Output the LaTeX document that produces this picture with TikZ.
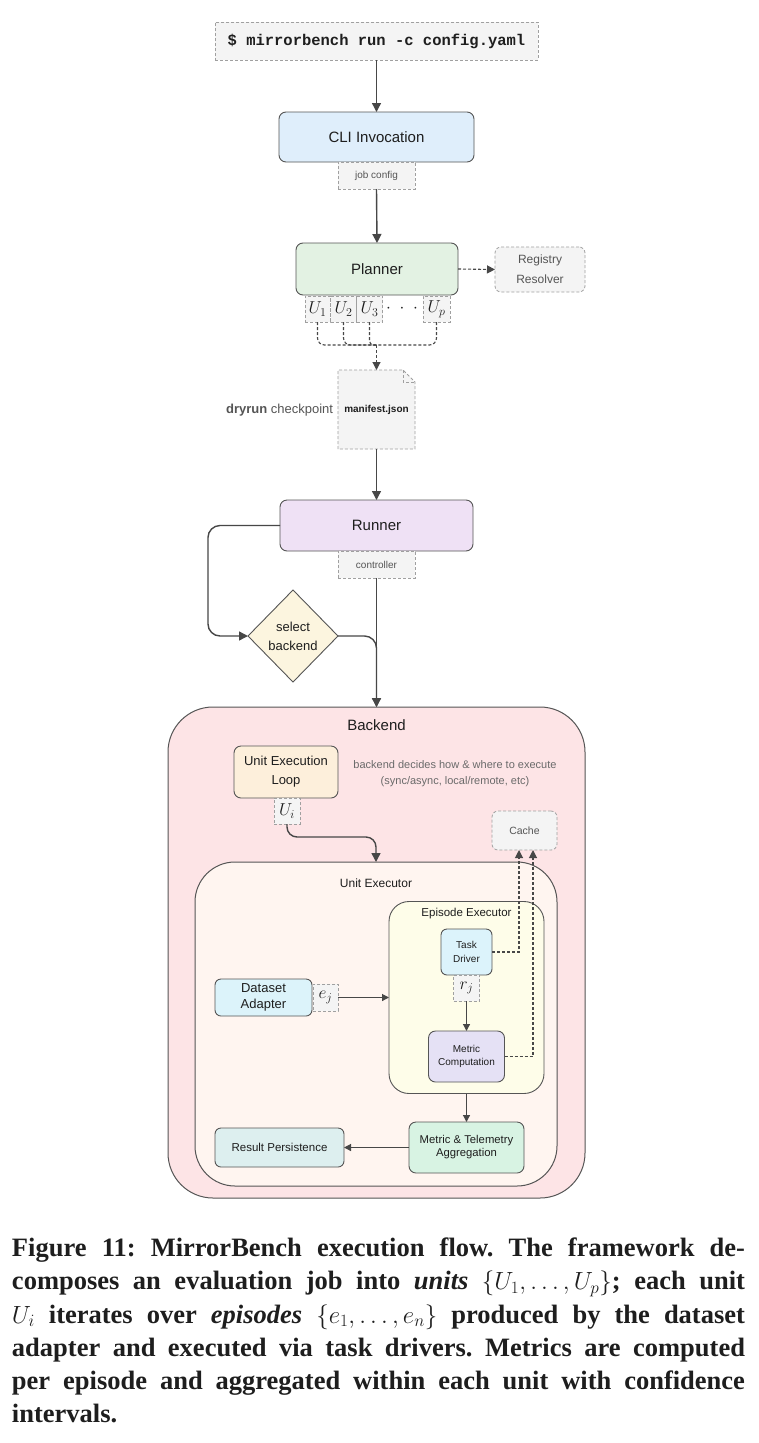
\documentclass[tikz,border=0pt]{standalone}
\usepackage{fontspec}
\setmainfont{Liberation Sans}
\setmonofont{Liberation Mono}
\newfontfamily\capfont{Liberation Serif}
\usetikzlibrary{arrows.meta,shapes.geometric,backgrounds}
\definecolor{bordc}{HTML}{555555}
\definecolor{dashc}{HTML}{A0A0A0}
\definecolor{lblfill}{HTML}{F4F4F4}
\definecolor{arrc}{HTML}{474747}
\definecolor{txtc}{HTML}{1E1E1E}
\definecolor{txtgray}{HTML}{555555}
\definecolor{anntxt}{HTML}{6A6A6A}
\definecolor{clifill}{HTML}{DFEEFB}
\definecolor{planfill}{HTML}{E3F2E3}
\definecolor{runfill}{HTML}{EFE1F5}
\definecolor{dfill}{HTML}{FCF5DF}
\definecolor{bkfill}{HTML}{FDE4E6}
\definecolor{uelfill}{HTML}{FDEFDB}
\definecolor{uefill}{HTML}{FFF5F0}
\definecolor{epfill}{HTML}{FEFDE9}
\definecolor{taskfill}{HTML}{DCF3FB}
\definecolor{metfill}{HTML}{E5E1F5}
\definecolor{dsfill}{HTML}{DCF3FA}
\definecolor{aggfill}{HTML}{D8F3E3}
\definecolor{resfill}{HTML}{DDEFEF}
\newcommand\fsz[2]{\fontsize{#1}{#2}\selectfont}
\tikzset{
  every node/.style={inner sep=0pt, outer sep=0pt, text=txtc},
  box/.style={draw=bordc, line width=0.9pt, rounded corners=7pt, align=center},
  lbl/.style={draw=dashc, line width=0.8pt, dash pattern=on 3pt off 2pt, fill=lblfill, align=center},
  arr/.style={draw=arrc, line width=1.4pt, -{Triangle[length=9pt,width=9pt]}},
  sarr/.style={draw=arrc, line width=1.2pt, -{Triangle[length=7pt,width=7pt]}},
  darr/.style={draw=arrc, line width=1.1pt, dash pattern=on 3pt off 2pt, -{Triangle[length=8pt,width=8pt]}},
  dline/.style={draw=arrc, line width=1.1pt, dash pattern=on 3pt off 2pt},
  mlbl/.style={lbl, font=\fsz{18}{18}},
}
\begin{document}
\begin{tikzpicture}[x=1pt,y=-1pt]
\begin{scope}[on background layer]
\fill[white] (0,0) rectangle (758,1443);
\end{scope}
\useasboundingbox (0,0) rectangle (758,1443);

% top
\node[lbl, minimum width=323pt, minimum height=38pt, font=\ttfamily\bfseries\fsz{15.5}{18}] (cmd) at (376.5,41) {\$ mirrorbench run -c config.yaml};
\node[box, fill=clifill, minimum width=195pt, minimum height=50pt, font=\fsz{15}{18}] (cli) at (376.5,137) {CLI Invocation};
\node[lbl, minimum width=77pt, minimum height=27pt, font=\fsz{10}{12}, text=txtgray] (jobcfg) at (376.5,175.5) {job config};
\draw[arr] (cmd.south) -- (cli.north);

\node[box, fill=planfill, minimum width=162pt, minimum height=52pt, font=\fsz{15}{18}] (planner) at (377,269) {Planner};
\draw[arr] (jobcfg.south) -- (planner.north);
\node[lbl, rounded corners=6pt, minimum width=90pt, minimum height=45pt, font=\fsz{12}{20}, text=txtgray] (registry) at (540,269.5) {Registry\\Resolver};
\draw[darr] (planner.east) -- (registry.west);

\node[mlbl, minimum width=25pt, minimum height=26pt] (u1) at (317.5,309) {$U_1$};
\node[mlbl, minimum width=26pt, minimum height=26pt] (u2) at (343.5,309) {$U_2$};
\node[mlbl, minimum width=26pt, minimum height=26pt] (u3) at (369.5,309) {$U_3$};
\node[font=\fsz{18}{18}] (dots) at (402,309) {$\cdot\;\cdot\;\cdot$};
\node[mlbl, minimum width=27pt, minimum height=26pt] (up) at (436.5,309) {$U_p$};

\node[minimum width=77pt, minimum height=79pt, font=\bfseries\fsz{10}{12}] (manifest) at (376.5,409.5) {manifest.json};
\begin{scope}[on background layer]
\fill[lblfill] (manifest.south west) -- (manifest.north west) -- ([xshift=-12pt]manifest.north east) -- ([yshift=-12pt]manifest.north east) -- (manifest.south east) -- cycle;
\end{scope}
\draw[dashc, line width=0.8pt, dash pattern=on 3pt off 2pt] (manifest.south west) -- (manifest.north west) -- ([xshift=-12pt]manifest.north east) -- ([yshift=-12pt]manifest.north east) -- (manifest.south east) -- cycle;
\draw[dashc, line width=0.8pt, dash pattern=on 3pt off 2pt] ([xshift=-12pt]manifest.north east) -- ([xshift=-12pt,yshift=-12pt]manifest.north east) -- ([yshift=-12pt]manifest.north east);

\coordinate (jn) at (376.5,345);
\draw[dline, rounded corners=7pt] (u1.south) |- (jn);
\draw[dline, rounded corners=7pt] (u2.south) |- (jn);
\draw[dline, rounded corners=4pt] (u3.south) |- (jn);
\draw[dline, rounded corners=7pt] (up.south) |- (jn);
\draw[darr] (jn) -- (manifest.north);

\node[anchor=east, font=\fsz{13}{15}, text=txtgray] (dry) at (333,410) {\textbf{dryrun} checkpoint};

\node[box, fill=runfill, minimum width=193pt, minimum height=51pt, font=\fsz{15}{18}] (runner) at (376.5,525.5) {Runner};
\node[lbl, minimum width=77pt, minimum height=27pt, font=\fsz{10}{12}, text=txtgray] (controller) at (376.5,564.5) {controller};
\draw[arr] (manifest.south) -- (runner.north);

\node[diamond, draw=bordc, line width=0.9pt, fill=dfill, minimum width=90pt, minimum height=92pt, align=center, font=\fsz{13}{19}] (sel) at (293,636) {select\\backend};

% backend container
\node[draw=bordc, line width=1pt, fill=bkfill, rounded corners=45pt, minimum width=417pt, minimum height=491pt] (backend) at (376.5,952.5) {};
\node[font=\fsz{15}{18}] (bktitle) at (376.5,725) {Backend};

\draw[arr, rounded corners=12pt] (runner.west) -| ([xshift=-40pt]sel.west) -- (sel.west);
\draw[arr, rounded corners=12pt] (sel.east) -| (backend.north);
\draw[arr] (controller.south) -- (backend.north);

\node[box, fill=uelfill, minimum width=104pt, minimum height=52pt, font=\fsz{13}{19}] (uel) at (286,772) {Unit Execution\\Loop};
\node[align=center, text=anntxt, font=\fsz{11}{16}] (ann) at (455,773.5) {backend decides how \& where to execute\\(sync/async, local/remote, etc)};
\node[mlbl, minimum width=26pt, minimum height=26pt] (ui) at (287,811) {$U_i$};
\node[lbl, rounded corners=6pt, minimum width=65pt, minimum height=39pt, font=\fsz{10.5}{12}, text=txtgray] (cache) at (524.5,830.5) {Cache};

% unit executor
\node[draw=bordc, line width=1pt, fill=uefill, rounded corners=40pt, minimum width=362pt, minimum height=324pt] (ue) at (376,1024) {};
\node[font=\fsz{12}{14}] (uetitle) at (376,883) {Unit Executor};
\draw[arr, rounded corners=10pt] (ui.south) |- ([yshift=25pt]ue.north) -- (ue.north);

\node[draw=bordc, line width=0.9pt, fill=epfill, rounded corners=20pt, minimum width=155pt, minimum height=192pt] (ep) at (466.5,997.5) {};
\node[font=\fsz{11.5}{14}] (eptitle) at (466.5,914) {Episode Executor};

\node[box, rounded corners=6pt, fill=taskfill, minimum width=51pt, minimum height=46pt, font=\fsz{10}{14}] (task) at (466.5,952) {Task\\Driver};
\node[mlbl, minimum width=26pt, minimum height=26pt] (rj) at (466.5,988) {$r_j$};
\node[box, fill=metfill, minimum width=76pt, minimum height=51pt, font=\fsz{10}{13.5}] (metric) at (466.5,1056.5) {Metric\\Computation};
\draw[sarr] (rj.south) -- (metric.north);
\draw[darr] (task.east) -| ([xshift=-5.5pt]cache.south);
\draw[darr] (metric.east) -| ([xshift=8.5pt]cache.south);

\node[box, rounded corners=6pt, fill=dsfill, minimum width=97pt, minimum height=37pt, font=\fsz{13}{16.5}] (ds) at (263.5,997.5) {Dataset\\Adapter};
\node[mlbl, minimum width=25pt, minimum height=27pt] (ej) at (325.5,997.5) {$e_j$};
\draw[sarr] (ej.east) -- (ep.west);

\node[box, fill=aggfill, minimum width=115pt, minimum height=51pt, font=\fsz{11.3}{13}] (agg) at (466.5,1147.5) {Metric \& Telemetry\\Aggregation};
\draw[sarr] (ep.south) -- (agg.north);
\node[box, rounded corners=6pt, fill=resfill, minimum width=129pt, minimum height=39pt, font=\fsz{11.5}{14}] (res) at (279.5,1147.5) {Result Persistence};
\draw[sarr] (agg.west) -- (res.east);

% caption
\node[anchor=north west, text width=733pt, align=justify, font=\capfont\bfseries\fsz{26.5}{33.2}\frenchspacing] (cap) at (12,1238) {Figure 11: MirrorBench execution flow. The framework de-\linebreak composes an evaluation job into \textit{units} $\{U_1,\dots,U_p\}$; each unit\linebreak $U_i$ iterates over \textit{episodes} $\{e_1,\dots,e_n\}$ produced by the dataset\linebreak adapter and executed via task drivers. Metrics are computed\linebreak per episode and aggregated within each unit with confidence\linebreak intervals.};
\end{tikzpicture}
\end{document}
